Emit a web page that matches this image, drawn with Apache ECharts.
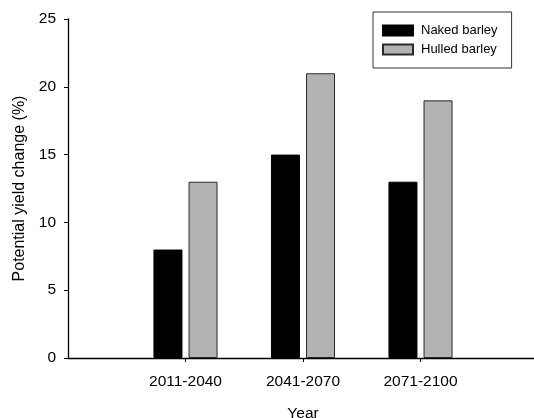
<!DOCTYPE html>
<html>
<head>
<meta charset="utf-8">
<script src="https://cdn.jsdelivr.net/npm/echarts@6/dist/echarts.min.js"></script>
<style>
  html, body { margin: 0; padding: 0; background: #fff; }
  #chart { width: 534px; height: 418px; }
</style>
</head>
<body>
<div id="chart"></div>
<script>
// Periods on the x axis; the empty entries pad the axis on both sides
const periods = ['', '2011-2040', '2041-2070', '2071-2100', ''];
// Potential yield change (%) per period
const nakedBarley = [null, 8, 15, 13, null];
const hulledBarley = [null, 13, 21, 19, null];
const yTicks = [0, 5, 10, 15, 20, 25];

const FONT = 'Liberation Sans, Arial, sans-serif';

const chart = echarts.init(document.getElementById('chart'), null, { renderer: 'canvas' });

chart.setOption({
  animation: false,
  backgroundColor: '#ffffff',
  textStyle: { fontFamily: FONT },
  grid: {
    left: 68, top: 19, bottom: 60, right: -4,
    containLabel: false,
    outerBoundsMode: 'none'
  },
  legend: {
    orient: 'vertical',
    left: 373,
    top: 12,
    icon: 'rect',
    itemWidth: 30,
    itemHeight: 10,
    itemGap: 6,
    padding: [12, 14, 12, 9],
    borderColor: '#333',
    borderWidth: 1,
    textStyle: { fontFamily: FONT, fontSize: 13, color: '#000', padding: [0, 0, 0, 3] },
    data: ['Naked barley', 'Hulled barley']
  },
  xAxis: {
    type: 'category',
    data: periods,
    boundaryGap: false,
    name: 'Year',
    nameLocation: 'middle',
    nameGap: 48,
    nameTextStyle: { fontFamily: FONT, fontSize: 15.5, color: '#000' },
    axisLine: { lineStyle: { color: '#000', width: 1.3 } },
    axisTick: {
      length: 4,
      inside: false,
      interval: (i, v) => v !== '',
      lineStyle: { color: '#000', width: 1 }
    },
    axisLabel: {
      interval: 0,
      fontFamily: FONT,
      fontSize: 15.5,
      color: '#000',
      margin: 16
    },
    splitLine: { show: false }
  },
  yAxis: {
    type: 'value',
    min: yTicks[0],
    max: yTicks[yTicks.length - 1],
    interval: 5,
    name: 'Potential yield change (%)',
    nameLocation: 'middle',
    nameGap: 40,
    nameTextStyle: { fontFamily: FONT, fontSize: 16, color: '#000' },
    axisLine: { show: true, lineStyle: { color: '#000', width: 1.3 } },
    axisTick: { show: true, length: 4, lineStyle: { color: '#000', width: 1 } },
    axisLabel: { fontFamily: FONT, fontSize: 15.5, color: '#000', margin: 12 },
    splitLine: { show: false }
  },
  series: [
    {
      name: 'Naked barley',
      type: 'bar',
      data: nakedBarley,
      barWidth: 29,
      barGap: '21%',
      itemStyle: { color: '#000000', borderColor: '#000', borderWidth: 1 }
    },
    {
      name: 'Hulled barley',
      type: 'bar',
      data: hulledBarley,
      barWidth: 29,
      itemStyle: { color: '#b3b3b3', borderColor: '#2a2a2a', borderWidth: 1 }
    }
  ]
});
</script>
</body>
</html>
